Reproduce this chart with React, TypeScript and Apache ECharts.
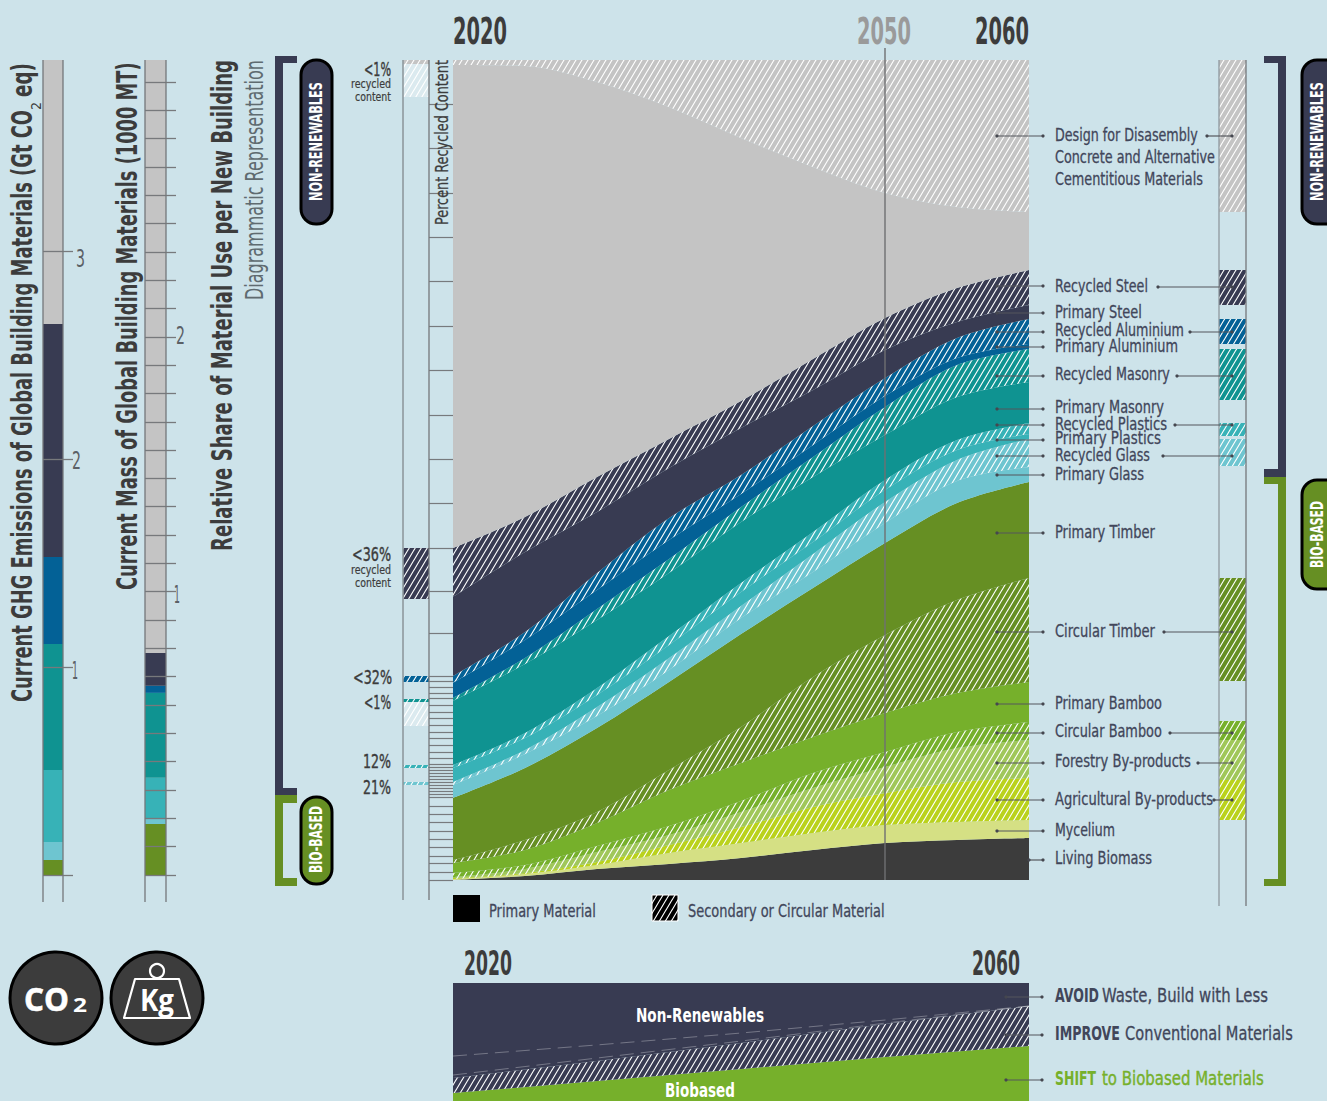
import React, { useEffect, useRef } from "react";
import * as echarts from "echarts";

const W = 1327;
const H = 1101;
const NARROW = '"Liberation Sans Narrow", "DejaVu Sans Condensed", sans-serif';
const BG = "#cde3ea";

// ---- Main diagram: thickness of each band per year (diagram units, total 820) ----
const years = ["2020", "2025", "2030", "2035", "2040", "2045", "2050", "2055", "2060"];
const livingBiomass = [0, 4, 11, 16, 22, 30, 37, 40, 42];
const mycelium = [1, 2, 4, 11, 15, 17, 18, 18, 18];
const agriculturalByProducts = [1, 1, 3, 8, 16, 26, 32, 40, 42];
const forestryByProducts = [1, 4, 10, 10, 15, 19, 26, 34, 38];
const circularBamboo = [4, 4, 6, 9, 11, 15, 15, 16, 18];
const primaryBamboo = [10, 15, 23, 36, 38, 36, 39, 39, 40];
const circularTimber = [3, 10, 11, 20, 36, 60, 78, 93, 104];
const primaryTimber = [62, 72, 84, 88, 93, 89, 92, 97, 96];
const primaryGlass = [13, 14, 12, 12, 16, 16, 20, 22, 15];
const recycledGlass = [3, 4, 9, 12, 12, 18, 21, 21, 28];
const primaryPlastics = [14, 12, 12, 13, 14, 12, 12, 10, 5];
const recycledPlastics = [3, 5, 7, 9, 9, 10, 10, 10, 11];
const primaryMasonry = [64, 69, 68, 63, 61, 55, 45, 43, 41];
const recycledMasonry = [3, 6, 11, 14, 15, 20, 28, 32, 33];
const primaryAluminium = [15, 18, 19, 19, 13, 12, 11, 7, 5];
const recycledAluminium = [7, 8, 17, 22, 19, 19, 18, 20, 25];
const primarySteel = [79, 80, 61, 50, 47, 36, 28, 16, 14];
const recycledSteel = [49, 35, 35, 29, 27, 31, 32, 34, 35];
const concrete = [483, 451, 395, 332, 263, 192, 125, 81, 58];
const designForDisassembly = [5, 6, 22, 47, 78, 107, 133, 147, 152];
const shareTotal = 820;

const recycledContentTicks = [
  776, 732, 687, 643, 599, 554, 510, 465, 421, 377, 332, 289, 247, 204, 199, 193, 187, 182, 175, 168, 162, 155, 148,
  142, 135, 128, 122, 116, 113, 110, 107, 104, 101, 98, 95, 92, 89, 86, 83, 74, 66, 58, 49, 41, 33, 24, 17, 8, 0,
];

// ---- Left and right "recycled" columns, bottom to top; "gap" draws nothing ----
const leftColumnValues = [95, 3, 14, 3, 39, 24, 3, 17, 6, 77, 51, 451, 33, 4];
const leftColumnKinds = ["gap", "light", "gap", "mid", "gap", "pale", "teal", "gap", "blue", "gap", "navy", "gap", "pale", "gray"];
const rightColumnValues = [60, 40, 40, 19, 40, 103, 112, 27, 3, 13, 23, 51, 5, 25, 14, 35, 58, 152];
const rightColumnKinds = ["gap", "agri", "forestry", "bamboo", "gap", "timber", "gap", "light", "gap", "mid", "gap", "teal", "gap", "blue", "gap", "navy", "gap", "gray"];

// ---- Current GHG emissions and mass bars ----
const barKinds = ["timber", "light", "mid", "teal", "blue", "navy", "gray"];
const ghgValues = [0.072, 0.087, 0.346, 0.606, 0.418, 1.12, 1.27];
const ghgMax = 3.918;
const ghgTicks = [0, 1, 2, 3];
const massValues = [0.18, 0.018, 0.145, 0.3, 0.025, 0.116, 2.093];
const massMax = 2.877;
const massTicks = [0, 0.1, 0.2, 0.3, 0.4, 0.5, 0.6, 0.7, 0.8, 0.9, 1, 1.1, 1.2, 1.3, 1.4, 1.5, 1.6, 1.7, 1.8, 1.9, 2, 2.1, 2.2, 2.3, 2.4, 2.5, 2.6, 2.7, 2.8];

// ---- Lower strategy diagram ----
const strategyYears = ["2020", "2030", "2040", "2050", "2060"];
const biobased = [6.8, 16.9, 27.1, 37.3, 46.6];
const improve = [12.7, 17, 22.1, 28, 33.9];
const avoid = [80.5, 66.1, 50.8, 34.7, 19.5];
const strategySeamA = [38.1, 47.5, 57.6, 68.6, 80.5];
const strategySeamB = [22, 36.4, 50.8, 66, 80.5];

const colors: Record<string, string> = {
  gray: "#c4c4c4",
  navy: "#383b52",
  blue: "#036196",
  teal: "#0f9391",
  mid: "#37b2b7",
  light: "#6ec5d0",
  timber: "#668f23",
  bamboo: "#76b02b",
  forestry: "#a0c75a",
  agri: "#bad21c",
  mycelium: "#d5e084",
  biomass: "#3c3c3c",
  pale: "#dbeaef",
};

const bands: [string, number[], string, boolean][] = [
  ["Living Biomass", livingBiomass, "biomass", false],
  ["Mycelium", mycelium, "mycelium", false],
  ["Agricultural By-products", agriculturalByProducts, "agri", true],
  ["Forestry By-products", forestryByProducts, "forestry", true],
  ["Circular Bamboo", circularBamboo, "bamboo", true],
  ["Primary Bamboo", primaryBamboo, "bamboo", false],
  ["Circular Timber", circularTimber, "timber", true],
  ["Primary Timber", primaryTimber, "timber", false],
  ["Primary Glass", primaryGlass, "light", false],
  ["Recycled Glass", recycledGlass, "light", true],
  ["Primary Plastics", primaryPlastics, "mid", false],
  ["Recycled Plastics", recycledPlastics, "mid", true],
  ["Primary Masonry", primaryMasonry, "teal", false],
  ["Recycled Masonry", recycledMasonry, "teal", true],
  ["Primary Aluminium", primaryAluminium, "blue", false],
  ["Recycled Aluminium", recycledAluminium, "blue", true],
  ["Primary Steel", primarySteel, "navy", false],
  ["Recycled Steel", recycledSteel, "navy", true],
  ["Concrete and Alternative Cementitious Materials", concrete, "gray", false],
  ["Design for Disasembly", designForDisassembly, "gray", true],
];

function hatch(color: string) {
  const c = document.createElement("canvas");
  c.width = 6;
  c.height = 10;
  const g = c.getContext("2d")!;
  g.fillStyle = color;
  g.fillRect(0, 0, 6, 10);
  g.strokeStyle = "#ffffff";
  g.lineWidth = 1.15;
  g.beginPath();
  g.moveTo(-1.5, 12.5);
  g.lineTo(7.5, -2.5);
  g.moveTo(-7.5, 12.5);
  g.lineTo(1.5, -2.5);
  g.moveTo(4.5, 12.5);
  g.lineTo(13.5, -2.5);
  g.stroke();
  return { image: c, repeat: "repeat", imageWidth: 6, imageHeight: 10 };
}

const measure = document.createElement("canvas").getContext("2d")!;

function T(text: string, x: number, y: number, w: number, size: number, o: any = {}) {
  const weight = o.weight ?? "normal";
  const family = o.family ?? NARROW;
  const fill = o.color ?? "#41465a";
  measure.font = `${weight} ${size}px ${family}`;
  const m = measure.measureText(text).width || 1;
  return {
    type: "text",
    x,
    y,
    z: 120,
    silent: true,
    rotation: o.rot ? Math.PI / 2 : 0,
    scaleX: w / m,
    scaleY: 1,
    style: {
      text,
      fill,
      stroke: o.thick ? fill : undefined,
      lineWidth: o.thick ?? 0,
      fontSize: size,
      fontWeight: weight,
      fontFamily: family,
      align: o.align ?? "left",
      verticalAlign: "middle",
    },
  };
}

function R(x: number, y: number, w: number, h: number, fill: any, z = 110, extra: any = {}) {
  return { type: "rect", z, silent: true, shape: { x, y, width: w, height: h, r: extra.r ?? 0 }, style: { fill, stroke: extra.stroke, lineWidth: extra.lineWidth } };
}

function L(x1: number, y1: number, x2: number, y2: number, stroke: string, lineWidth = 1, z = 110) {
  return { type: "line", z, silent: true, shape: { x1, y1, x2, y2 }, style: { stroke, lineWidth } };
}

function leader(x1: number, x2: number, y: number) {
  const dot = (cx: number) => ({ type: "circle", z: 112, silent: true, shape: { cx, cy: y, r: 1.6 }, style: { fill: "#45474f" } });
  return [L(x1, y, x2, y, "#55575c", 1.2, 111), dot(x1), dot(x2)];
}

const rowLabels: [string, number, number][] = [
  ["Design for Disasembly", 135, 143],
  ["Concrete and Alternative", 157, 160],
  ["Cementitious Materials", 179, 148],
  ["Recycled Steel", 286, 93],
  ["Primary Steel", 312, 87],
  ["Recycled Aluminium", 330, 129],
  ["Primary Aluminium", 346, 123],
  ["Recycled Masonry", 374, 115],
  ["Primary Masonry", 407, 109],
  ["Recycled Plastics", 424, 112],
  ["Primary Plastics", 438, 106],
  ["Recycled Glass", 455, 95],
  ["Primary Glass", 474, 89],
  ["Primary Timber", 532, 100],
  ["Circular Timber", 631, 100],
  ["Primary Bamboo", 703, 107],
  ["Circular Bamboo", 731, 107],
  ["Forestry By-products", 761, 136],
  ["Agricultural By-products", 799, 158],
  ["Mycelium", 830, 60],
  ["Living Biomass", 858, 97],
];
const mainLeaders = [136, 286, 313, 332, 347, 376, 409, 425, 440, 456, 475, 533, 632, 704, 733, 763, 800, 831];
const sideLeaders: [number, number][] = [
  [1207, 136], [1158, 287], [1190, 332], [1177, 376], [1175, 425], [1163, 456], [1164, 632], [1170, 733], [1198, 763], [1214, 800],
];

function buildOption() {
  const series: any[] = [];

  bands.forEach(([name, values, key, hatched]) => {
    series.push({
      name,
      type: "line",
      stack: "share",
      xAxisIndex: 0,
      yAxisIndex: 0,
      smooth: 0.33,
      symbol: "none",
      lineStyle: { width: 0 },
      itemStyle: { color: colors[key] },
      areaStyle: { opacity: 1, color: hatched ? hatch(colors[key]) : colors[key] },
      data: values,
    });
  });

  const column = (values: number[], kinds: string[], stack: string, axis: number) => {
    values.forEach((v, i) => {
      const k = kinds[i];
      series.push({
        type: "bar",
        stack,
        xAxisIndex: axis,
        yAxisIndex: axis,
        barWidth: "100%",
        itemStyle: { color: k === "gap" ? "rgba(0,0,0,0)" : hatch(colors[k]) },
        data: [v],
      });
    });
  };
  column(leftColumnValues, leftColumnKinds, "left", 3);
  column(rightColumnValues, rightColumnKinds, "right", 4);

  const solid = (values: number[], stack: string, axis: number) => {
    values.forEach((v, i) => {
      series.push({
        type: "bar",
        stack,
        xAxisIndex: axis,
        yAxisIndex: axis,
        barWidth: "100%",
        itemStyle: { color: colors[barKinds[i]] },
        data: [v],
      });
    });
  };
  solid(ghgValues, "ghg", 1);
  solid(massValues, "mass", 2);

  ([
    ["Biobased", biobased, colors.bamboo],
    ["Improve", improve, hatch(colors.navy)],
    ["Avoid", avoid, colors.navy],
  ] as [string, number[], any][]).forEach(([name, values, color]) => {
    series.push({
      name,
      type: "line",
      stack: "strategy",
      xAxisIndex: 5,
      yAxisIndex: 5,
      symbol: "none",
      lineStyle: { width: 0 },
      areaStyle: { opacity: 1, color },
      data: values,
    });
  });
  [strategySeamA, strategySeamB].forEach((values) => {
    series.push({
      type: "line",
      xAxisIndex: 5,
      yAxisIndex: 5,
      symbol: "none",
      z: 5,
      lineStyle: { width: 1, type: [14, 7], color: "rgba(255,255,255,0.3)" },
      data: values,
    });
  });

  const hiddenCat = (gridIndex: number) => ({ type: "category", gridIndex, data: ["a"], show: false });
  const tickStyle = { color: "#77797c", width: 1.3 };

  const g: any[] = [];
  // Column rules
  [[43, 902], [63, 902], [145, 902], [166, 902], [403, 900], [429, 900], [1219, 906], [1246, 906]].forEach(([x, y2]) => {
    g.push(L(x, 60, x, y2, x === 403 || x === 1219 ? "#8f999e" : "#74777a", x === 403 ? 1.6 : 1.3));
  });
  g.push(L(885, 48, 885, 880, "#6f7072", 1.4));

  // Axis numbers, sitting just under their ticks as in the original
  const digit = { color: "#5b6066" };
  g.push(T("3", 76, 259, 9, 24, digit), T("2", 72, 461, 9, 24, digit), T("1", 72, 671, 6, 24, digit));
  g.push(T("2", 176, 336, 9, 24, digit), T("1", 174, 595, 6, 24, digit));

  // Titles
  const title = { weight: "bold", rot: true, color: "#3c3c3c" };
  g.push(T("Current GHG Emissions of Global Building Materials (Gt CO", 22, 702, 592, 28, title));
  g.push(T("2", 36, 110, 8, 14, { rot: true, color: "#3c3c3c" }));
  g.push(T("eq)", 22, 97, 34, 28, title));
  g.push(T("Current Mass of Global Building Materials (1000 MT)", 127, 590, 528, 28, title));
  g.push(T("Relative Share of Material Use per New Building", 222, 551, 491, 28, title));
  g.push(T("Diagrammatic Representation", 254, 300, 240, 24, { rot: true, color: "#5f6b70" }));
  g.push(T("Percent Recycled Content", 442, 225, 165, 17, { rot: true, color: "#3c3c3c", thick: 0.25 }));

  // Brackets
  g.push(R(275, 56, 8, 739, colors.navy), R(275, 56, 22, 7, colors.navy), R(275, 788, 22, 7, colors.navy));
  g.push(R(275, 795, 8, 91, colors.timber), R(275, 795, 22, 8, colors.timber), R(275, 878, 22, 8, colors.timber));
  g.push(R(1278, 56, 8, 421, colors.navy), R(1264, 56, 22, 7, colors.navy), R(1264, 469, 22, 8, colors.navy));
  g.push(R(1278, 477, 8, 409, colors.timber), R(1264, 477, 22, 7, colors.timber), R(1264, 879, 22, 7, colors.timber));

  // Pills
  const pill = (x: number, y: number, w: number, h: number, fill: string) => R(x, y, w, h, fill, 113, { r: 15, stroke: "#000", lineWidth: 3 });
  g.push(pill(301, 60, 31, 164, colors.navy), pill(301, 797, 31, 87, colors.timber));
  g.push(pill(1302, 60, 40, 164, colors.navy), pill(1302, 480, 40, 109, colors.timber));
  const pillText = { weight: "bold", rot: true, color: "#fff" };
  g.push(T("NON-RENEWABLES", 316, 201, 119, 18, pillText), T("BIO-BASED", 316, 873, 67, 18, pillText));
  g.push(T("NON-RENEWABLES", 1317, 201, 119, 18, pillText), T("BIO-BASED", 1317, 568, 67, 18, pillText));

  // Recycled share notes
  const pct = { align: "right", color: "#3c3c3c", thick: 0.4 };
  const note = { align: "right", color: "#3c3c3c", thick: 0.2 };
  g.push(T("<1%", 391, 69, 27, 19, pct), T("recycled", 391, 84, 40, 13, note), T("content", 391, 97, 36, 13, note));
  g.push(T("<36%", 391, 554, 39, 19, pct), T("recycled", 391, 570, 40, 13, note), T("content", 391, 583, 36, 13, note));
  g.push(T("<32%", 392, 677, 39, 19, pct), T("<1%", 391, 702, 27, 19, pct), T("12%", 391, 762, 28, 19, pct), T("21%", 391, 788, 28, 19, pct));

  // Year heads
  g.push(T("2020", 453, 30, 54, 38, { weight: "bold", color: "#3c3c3c" }));
  g.push(T("2050", 857, 30, 54, 38, { weight: "bold", color: "#9a9a9a" }));
  g.push(T("2060", 975, 30, 54, 38, { weight: "bold", color: "#3c3c3c" }));
  g.push(T("2020", 464, 963, 48, 34, { weight: "bold", color: "#3c3c3c" }));
  g.push(T("2060", 972, 963, 48, 34, { weight: "bold", color: "#3c3c3c" }));

  // Row labels and leaders
  rowLabels.forEach(([text, y, w]) => g.push(T(text, 1055, y, w, 18, { thick: 0.3 })));
  mainLeaders.forEach((y) => g.push(...leader(997, 1043, y)));
  g.push(...leader(1029, 1043, 860));
  sideLeaders.forEach(([x, y]) => g.push(...leader(x, 1232, y)));

  // Legend
  g.push(R(453, 895, 27, 27, "#000"));
  g.push(R(652, 895, 26, 26, hatch("#000"), 110, { stroke: "#fff", lineWidth: 1 }));
  g.push(T("Primary Material", 489, 911, 107, 18, { thick: 0.3 }), T("Secondary or Circular Material", 688, 911, 197, 18, { thick: 0.3 }));

  // Strategy labels
  g.push(T("Non-Renewables", 636, 1015, 128, 20, { weight: "bold", color: "#fff" }));
  g.push(T("Biobased", 665, 1090, 70, 20, { weight: "bold", color: "#fff" }));
  g.push(T("AVOID", 1055, 995, 44, 20, { weight: "bold" }), T("Waste, Build with Less", 1102, 995, 166, 20, { thick: 0.3 }));
  g.push(T("IMPROVE", 1055, 1033, 65, 20, { weight: "bold" }), T("Conventional Materials", 1125, 1033, 168, 20, { thick: 0.3 }));
  g.push(T("SHIFT", 1055, 1078, 41, 20, { weight: "bold", color: colors.bamboo }), T("to Biobased Materials", 1102, 1078, 162, 20, { color: colors.bamboo, thick: 0.4 }));
  [997, 1035, 1080].forEach((y) => g.push(...leader(1006, 1042, y)));

  // Icons
  const disc = (cx: number) => ({ type: "circle", z: 110, silent: true, shape: { cx, cy: 998, r: 46 }, style: { fill: "#3c3c3c", stroke: "#000", lineWidth: 3 } });
  g.push(disc(56), disc(157));
  g.push(T("CO", 24, 998, 45, 32, { weight: "bold", color: "#fff", family: '"Open Sans", sans-serif', thick: 0.6 }));
  g.push(T("2", 73, 1005, 14, 19, { weight: "bold", color: "#fff", family: '"Open Sans", sans-serif' }));
  g.push(T("Kg", 140, 999, 34, 30, { weight: "bold", color: "#fff", family: '"Open Sans", sans-serif' }));
  g.push({ type: "circle", z: 120, silent: true, shape: { cx: 157, cy: 971, r: 7 }, style: { fill: "transparent", stroke: "#fff", lineWidth: 2.2 } });
  g.push({
    type: "polygon",
    z: 120,
    silent: true,
    shape: { points: [[135, 979], [179, 979], [190, 1018], [124, 1018]] },
    style: { fill: "transparent", stroke: "#fff", lineWidth: 2.2, lineJoin: "round" },
  });

  return {
    animation: false,
    backgroundColor: BG,
    grid: [
      { left: 453, top: 60, width: 576, height: 820 },
      { left: 43, top: 60, width: 20, height: 815 },
      { left: 145, top: 60, width: 21, height: 815 },
      { left: 403, top: 60, width: 26, height: 820 },
      { left: 1219, top: 60, width: 27, height: 820 },
      { left: 453, top: 983, width: 576, height: 118 },
    ],
    xAxis: [
      { type: "category", gridIndex: 0, data: years, boundaryGap: false, show: false },
      hiddenCat(1),
      hiddenCat(2),
      hiddenCat(3),
      hiddenCat(4),
      { type: "category", gridIndex: 5, data: strategyYears, boundaryGap: false, show: false },
    ],
    yAxis: [
      {
        type: "value",
        gridIndex: 0,
        min: 0,
        max: shareTotal,
        axisLine: { show: false },
        splitLine: { show: false },
        axisLabel: { show: false },
        axisTick: { show: true, length: 24, customValues: recycledContentTicks, lineStyle: { color: "#777a7d", width: 1.2 } },
      },
      {
        type: "value",
        gridIndex: 1,
        min: 0,
        max: ghgMax,
        axisLine: { show: false },
        splitLine: { show: false },
        axisLabel: { show: false },
        axisTick: { show: true, inside: true, length: 30, customValues: ghgTicks, lineStyle: tickStyle },
        z: 6,
      },
      {
        type: "value",
        gridIndex: 2,
        min: 0,
        max: massMax,
        axisLine: { show: false },
        splitLine: { show: false },
        axisLabel: { show: false },
        axisTick: { show: true, inside: true, length: 31, customValues: massTicks, lineStyle: tickStyle },
        z: 6,
      },
      { type: "value", gridIndex: 3, min: 0, max: shareTotal, show: false },
      { type: "value", gridIndex: 4, min: 0, max: shareTotal, show: false },
      { type: "value", gridIndex: 5, min: 0, max: 100, show: false },
    ],
    series,
    graphic: { elements: g },
  };
}

export default function App() {
  const ref = useRef<HTMLDivElement>(null);
  useEffect(() => {
    const chart = echarts.init(ref.current!, undefined, { renderer: "svg" });
    chart.setOption(buildOption() as any);
    return () => chart.dispose();
  }, []);
  return <div ref={ref} style={{ position: "fixed", left: 0, top: 0, width: W, height: H, background: BG }} />;
}
